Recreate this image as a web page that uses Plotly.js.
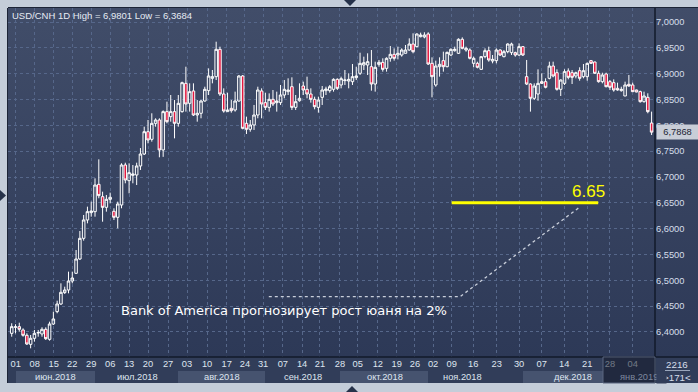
<!DOCTYPE html>
<html>
<head>
<meta charset="utf-8">
<script src="https://cdn.plot.ly/plotly-3.0.1.min.js"></script>
<style>
html,body{margin:0;padding:0;background:#c4cdd9;}
#chart{width:698px;height:392px;}
</style>
</head>
<body>
<div id="chart"></div>
<script>
// ---- DATA (USD/CNH daily) ----
const open = [6.3974,6.4090,6.4103,6.4039,6.3936,6.3761,6.3878,6.3980,6.3962,6.4052,
6.3858,6.4155,6.4394,6.4542,6.4762,6.4813,6.4987,6.5136,6.5413,6.5813,
6.6168,6.6310,6.6329,6.6858,6.6619,6.6413,6.6568,6.6336,6.6220,6.6458,
6.7232,6.6929,6.7032,6.7039,6.7213,6.7445,6.7877,6.7729,6.8039,6.8103,
6.7523,6.8265,6.8168,6.8265,6.8039,6.8265,6.8813,6.8426,6.8665,6.8200,
6.8233,6.8471,6.8671,6.8910,6.8942,6.9471,6.8606,6.8265,6.8329,6.8297,
6.8471,6.8955,6.8039,6.7923,6.8007,6.8200,6.8665,6.8439,6.8348,6.8503,
6.8439,6.8439,6.8587,6.8652,6.8748,6.8348,6.8477,6.8761,6.8697,6.8606,
6.8503,6.8348,6.8542,6.8671,6.8671,6.8697,6.8890,6.8781,6.8865,6.8858,
6.8845,6.8923,6.9007,6.9168,6.9168,6.9135,6.8800,6.9181,6.9219,6.9103,
6.9297,6.9374,6.9361,6.9361,6.9394,6.9458,6.9574,6.9523,6.9716,6.9710,
6.9768,6.9200,6.8781,6.9135,6.9252,6.9135,6.9361,6.9445,6.9394,6.9665,
6.9458,6.9458,6.9200,6.9200,6.9084,6.9329,6.9445,6.9245,6.9252,6.9458,
6.9329,6.9426,6.9407,6.9407,6.9361,6.9523,6.8942,6.8800,6.8523,6.8606,
6.8845,6.8845,6.8910,6.9148,6.9019,6.8697,6.8813,6.9052,6.9019,6.8955,
6.9058,6.8942,6.8942,6.9252,6.9226,6.9007,6.8845,6.8994,6.8845,6.8826,
6.8716,6.8671,6.8568,6.8794,6.8781,6.8684,6.8652,6.8458,6.8542,6.8045];
const high = [6.4169,6.4150,6.4180,6.4071,6.3975,6.3942,6.4039,6.4039,6.4091,6.4091,
6.4200,6.4394,6.4606,6.4942,6.4877,6.5168,6.5168,6.5587,6.5955,6.6265,
6.6426,6.6523,6.6974,6.7342,6.6716,6.6652,6.6697,6.6394,6.6523,6.7265,
6.7277,6.7265,6.7232,6.7277,6.7560,6.7974,6.8103,6.8233,6.8136,6.8136,
6.8290,6.8458,6.8587,6.8490,6.8587,6.8845,6.9135,6.8813,6.8813,6.8490,
6.8490,6.8748,6.9103,6.9071,6.9619,6.9523,6.8716,6.8632,6.8490,6.8652,
6.8974,6.8974,6.8168,6.8103,6.8394,6.8748,6.8716,6.8632,6.8619,6.8684,
6.8652,6.8781,6.8877,6.8910,6.8929,6.8587,6.8813,6.8845,6.8942,6.8716,
6.8555,6.8555,6.8761,6.8748,6.8781,6.8910,6.8910,6.8942,6.9071,6.9007,
6.9187,6.9135,6.9406,6.9329,6.9394,6.9458,6.9232,6.9265,6.9297,6.9316,
6.9535,6.9490,6.9523,6.9490,6.9555,6.9684,6.9781,6.9781,6.9794,6.9801,
6.9801,6.9316,6.9252,6.9316,6.9426,6.9426,6.9490,6.9523,6.9684,6.9703,
6.9523,6.9490,6.9329,6.9232,6.9342,6.9490,6.9523,6.9361,6.9490,6.9471,
6.9458,6.9587,6.9600,6.9426,6.9587,6.9535,6.9265,6.8813,6.8813,6.9084,
6.9007,6.8910,6.9232,6.9232,6.9084,6.8890,6.9084,6.9103,6.9071,6.9039,
6.9123,6.9187,6.9213,6.9265,6.9232,6.9058,6.9019,6.9019,6.8877,6.8890,
6.8826,6.8748,6.8845,6.8974,6.8826,6.8690,6.8671,6.8652,6.8620,6.8265];
const low = [6.3909,6.3975,6.4006,6.3909,6.3748,6.3684,6.3813,6.3909,6.3909,6.3845,
6.3832,6.4136,6.4362,6.4523,6.4736,6.4749,6.4942,6.5123,6.5394,6.5768,
6.6103,6.6232,6.6232,6.6588,6.6135,6.6329,6.6490,6.6168,6.6007,6.6394,
6.6878,6.6684,6.6878,6.6845,6.7136,6.7426,6.7652,6.7684,6.7974,6.7381,
6.7390,6.8039,6.8071,6.7748,6.7974,6.8245,6.8265,6.8265,6.8181,6.8071,
6.8136,6.8458,6.8587,6.8813,6.8877,6.8568,6.8245,6.8265,6.8245,6.8265,
6.8458,6.7923,6.7832,6.7877,6.7910,6.8136,6.8136,6.8297,6.8265,6.8374,
6.8265,6.8394,6.8523,6.8587,6.8297,6.8297,6.8458,6.8587,6.8523,6.8439,
6.8310,6.8245,6.8394,6.8587,6.8632,6.8652,6.8684,6.8716,6.8781,6.8716,
6.8781,6.8877,6.8974,6.9071,6.8974,6.8671,6.8652,6.9135,6.9039,6.9039,
6.9232,6.9252,6.9277,6.9329,6.9394,6.9445,6.9394,6.9510,6.9703,6.9684,
6.9168,6.8542,6.8748,6.8942,6.9039,6.9123,6.9342,6.9426,6.9381,6.9471,
6.9426,6.9277,6.9123,6.9103,6.9071,6.9297,6.9232,6.9200,6.9200,6.9342,
6.9316,6.9394,6.9361,6.9329,6.9342,6.9342,6.8781,6.8265,6.8490,6.8477,
6.8800,6.8716,6.8890,6.8929,6.8671,6.8568,6.8781,6.8890,6.8800,6.8910,
6.8864,6.8910,6.8864,6.9187,6.8994,6.8826,6.8813,6.8736,6.8684,6.8652,
6.8671,6.8652,6.8568,6.8748,6.8645,6.8640,6.8439,6.8439,6.8233,6.7813];
const close = [6.4103,6.4100,6.4052,6.3936,6.3768,6.3878,6.3975,6.3990,6.4052,6.3871,
6.4155,6.4252,6.4542,6.4768,6.4813,6.4987,6.5045,6.5413,6.5813,6.6168,
6.6329,6.6342,6.6845,6.6639,6.6413,6.6568,6.6607,6.6220,6.6478,6.7232,
6.6942,6.7084,6.7058,6.7213,6.7445,6.7877,6.7716,6.8039,6.8103,6.7523,
6.8265,6.8071,6.8265,6.8039,6.8426,6.8826,6.8413,6.8652,6.8200,6.8233,
6.8471,6.8697,6.8955,6.8942,6.9471,6.8606,6.8277,6.8297,6.8284,6.8471,
6.8955,6.7942,6.7923,6.8007,6.8200,6.8684,6.8413,6.8348,6.8503,6.8413,
6.8471,6.8587,6.8697,6.8684,6.8348,6.8458,6.8523,6.8684,6.8606,6.8503,
6.8361,6.8490,6.8684,6.8703,6.8748,6.8890,6.8716,6.8903,6.8877,6.8890,
6.8942,6.8955,6.9200,6.9213,6.9232,6.8800,6.9123,6.9219,6.9084,6.9297,
6.9374,6.9297,6.9394,6.9458,6.9458,6.9574,6.9426,6.9768,6.9748,6.9748,
6.9187,6.8942,6.9148,6.9181,6.9135,6.9413,6.9471,6.9471,6.9665,6.9491,
6.9491,6.9297,6.9297,6.9123,6.9329,6.9445,6.9265,6.9277,6.9458,6.9361,
6.9426,6.9574,6.9574,6.9361,6.9523,6.9361,6.8800,6.8523,6.8761,6.8813,
6.8813,6.8736,6.9148,6.8955,6.8697,6.8877,6.9039,6.8929,6.8929,6.9019,
6.8910,6.9058,6.9200,6.9200,6.9007,6.8845,6.8974,6.8748,6.8736,6.8684,
6.8684,6.8697,6.8781,6.8761,6.8652,6.8645,6.8458,6.8568,6.8265,6.7868];

const weekTickPos = [1.06,6.07,11.1,16,21,26,31,36,41.3,46.3,51.6,56.8,61.6,66.4,71.6,76.7,81.4,86.7,91.4,96.7,101.7,106.5,111.3,116.2,121.9,128.1,134,140,145.9,152,158,164];
const weekLabels = ['01','08','15','22','29','06','13','20','27','03','10','17','24','31','07','14','21','28','05','12','19','26','02','09','16','23','30','07','14','21','28','04'];
const monthLabels = ['июн.2018','июл.2018','авг.2018','сен.2018','окт.2018','ноя.2018','дек.2018','янв.2019'];
const yTickVals = [6.40,6.45,6.50,6.55,6.60,6.65,6.70,6.75,6.80,6.85,6.90,6.95,7.00];
const yTickText = ['6,4000','6,4500','6,5000','6,5500','6,6000','6,6500','6,7000','6,7500','6,8000','6,8500','6,9000','6,9500','7,0000'];
const symbol = 'USD/CNH 1D';
const hiVal = '6,9801', loVal = '6,3684';
const lastPrice = 6.7868, lastText = '6,7868';
const target = 6.65, targetText = '6.65';
const caption = 'Bank of America прогнозирует рост юаня на 2%';
const barsInfo = ['2216', '&gt;171&lt;'];

// ---- LAYOUT HELPERS (pixel -> paper) ----
const L = 8, R = 655, T = 8, B = 357;
const px = v => (v - L) / (R - L);
const py = v => (B - v) / (B - T);
const FONT = 'Liberation Sans, Arial, sans-serif';

const idx = close.map((_, i) => i);

const trace = {
  type: 'candlestick', x: idx, open: open, high: high, low: low, close: close,
  increasing: {line: {color: '#ffffff', width: 1}, fillcolor: 'rgba(0,0,0,0)'},
  decreasing: {line: {color: '#ffffff', width: 1}, fillcolor: '#e3173f'},
  whiskerwidth: 0, hoverinfo: 'none', showlegend: false
};

const gradSvg = '<svg xmlns="http://www.w3.org/2000/svg" width="10" height="100" viewBox="0 0 10 100" preserveAspectRatio="none"><defs><linearGradient id="g" x1="0" y1="0" x2="0" y2="1"><stop offset="0" stop-color="#414d69"/><stop offset="1" stop-color="#2d3957"/></linearGradient></defs><rect width="10" height="100" fill="url(#g)"/></svg>';

const monthBoxes = [[16,95],[178,265],[340,428],[523,603]];
const monthCenters = [55,137,222,303,385,462,573];

const shapes = [
  {type:'rect', xref:'paper', yref:'paper', x0:px(8), x1:px(698), y0:py(383), y1:py(357), fillcolor:'#313d59', line:{width:0}, layer:'below'},
];
monthBoxes.forEach(b => shapes.push({type:'rect', xref:'paper', yref:'paper', x0:px(b[0]), x1:px(b[1]), y0:py(383), y1:py(371), fillcolor:'#46536f', line:{width:0}, layer:'below'}));
shapes.push(
  {type:'line', xref:'paper', yref:'paper', x0:px(655), x1:px(655), y0:py(383), y1:py(8), line:{color:'#121a2a', width:1.5}},
  {type:'line', xref:'paper', yref:'paper', x0:px(8), x1:px(698), y0:py(357), y1:py(357), line:{color:'#121a2a', width:1.5}},
  {type:'line', xref:'paper', yref:'paper', x0:px(7.5), x1:px(7.5), y0:py(383), y1:py(8), line:{color:'#1c2436', width:1}},
  {type:'line', xref:'paper', yref:'paper', x0:px(8), x1:px(698), y0:py(7.5), y1:py(7.5), line:{color:'#1c2436', width:1}},
  {type:'line', xref:'paper', yref:'paper', x0:px(665), x1:px(690), y0:py(370.5), y1:py(370.5), line:{color:'#9aa6bc', width:1}},
  {type:'rect', xref:'paper', yref:'paper', x0:px(603), x1:px(655), y0:py(383), y1:py(357), fillcolor:'rgba(20,26,42,0.55)', line:{color:'#5a6680', width:1}, layer:'above'},
  {type:'line', xref:'x', yref:'y', x0:116.2, x1:154.9, y0:target, y1:target, line:{color:'#ffff00', width:3}},
  {type:'path', xref:'x', yref:'y', path:'M 67.9,6.4683 L 118.4,6.4683 L 149.8,6.6406', line:{color:'#c9cfdb', width:1.3, dash:'dot'}},
  {type:'path', xref:'paper', yref:'paper', path:`M ${px(344)},${py(0)} L ${px(356)},${py(0)} L ${px(350)},${py(6)} Z`, fillcolor:'#26324a', line:{width:0}},
  {type:'path', xref:'paper', yref:'paper', path:`M ${px(346)},${py(392)} L ${px(358)},${py(392)} L ${px(352)},${py(386)} Z`, fillcolor:'#26324a', line:{width:0}},
  {type:'path', xref:'paper', yref:'paper', path:`M ${px(0)},${py(190)} L ${px(0)},${py(201)} L ${px(6)},${py(195.5)} Z`, fillcolor:'#26324a', line:{width:0}}
);

const annotations = [
  {xref:'paper', yref:'paper', x:px(10), y:py(16), xanchor:'left', yanchor:'middle', showarrow:false,
   text:`${symbol} High = ${hiVal} Low = ${loVal}`, font:{family:FONT, size:9.5, color:'#e6ebf3'}},
  {xref:'paper', yref:'paper', x:px(119), y:py(310), xanchor:'left', yanchor:'middle', showarrow:false,
   text:caption, font:{family:'DejaVu Sans, sans-serif', size:13, color:'#ffffff'}},
  {xref:'x', yref:'y', x:152.3, y:target, xanchor:'center', yanchor:'bottom', yshift:0, showarrow:false,
   text:targetText, font:{family:FONT, size:17, color:'#ffff00'}},
  {xref:'paper', yref:'y', x:px(656.5), y:lastPrice, xanchor:'left', yanchor:'middle', showarrow:false,
   text:lastText, bgcolor:'#c8cdd7', borderpad:1, width:39, height:12, font:{family:FONT, size:9.3, color:'#1c2434'}},
  {xref:'paper', yref:'paper', x:px(677), y:py(364.5), xanchor:'center', yanchor:'middle', showarrow:false,
   text:barsInfo[0], font:{family:FONT, size:9.8, color:'#d6deeb'}},
  {xref:'paper', yref:'paper', x:px(677), y:py(377.5), xanchor:'center', yanchor:'middle', showarrow:false,
   text:barsInfo[1], font:{family:FONT, size:9.8, color:'#d6deeb'}}
];
monthLabels.forEach((m, i) => {
  const last = i === monthLabels.length - 1;
  annotations.push({xref:'paper', yref:'paper', x: last ? px(618) : px(monthCenters[i]), y:py(377),
    xanchor: last ? 'left' : 'center', yanchor:'middle', showarrow:false, text:m,
    font:{family:FONT, size:9.3, color: last ? '#7d879e' : '#dfe5ef'}});
});
annotations.push({xref:'paper', yref:'paper', x:px(656), y:py(377), xanchor:'left', yanchor:'middle', showarrow:false,
  text:' ', width:9, height:11, bgcolor:'#313d59', borderpad:0});

const layout = {
  width: 698, height: 392,
  margin: {l: L, r: 698 - R, t: T, b: 392 - B, pad: 0},
  paper_bgcolor: '#c4cdd9', plot_bgcolor: '#37435f',
  boxgap: 0.05,
  showlegend: false,
  xaxis: {type:'linear', range:[-0.98, 169.9], rangeslider:{visible:false}, fixedrange:true,
    tickmode:'array', tickvals:weekTickPos, ticktext:weekLabels, ticks:'',
    tickfont:{family:FONT, size:9.3, color:'#dfe5ef'},
    showgrid:true, gridcolor:'#56678a', griddash:'3px,3px', gridwidth:1, zeroline:false, showline:false},
  yaxis: {side:'right', range:[6.3516, 7.0271], fixedrange:true,
    tickmode:'array', tickvals:yTickVals, ticktext:yTickText, ticks:'',
    tickfont:{family:FONT, size:9.3, color:'#d6deeb'},
    showgrid:true, gridcolor:'#56678a', griddash:'3px,3px', gridwidth:1, zeroline:false, showline:false},
  images: [{source: 'data:image/svg+xml;charset=utf-8,' + encodeURIComponent(gradSvg),
    xref:'paper', yref:'paper', x:0, y:1, sizex:px(698), sizey:1, xanchor:'left', yanchor:'top',
    sizing:'stretch', layer:'below'}],
  shapes: shapes,
  annotations: annotations
};

Plotly.newPlot('chart', [trace], layout, {staticPlot: true, displayModeBar: false});
</script>
</body>
</html>
